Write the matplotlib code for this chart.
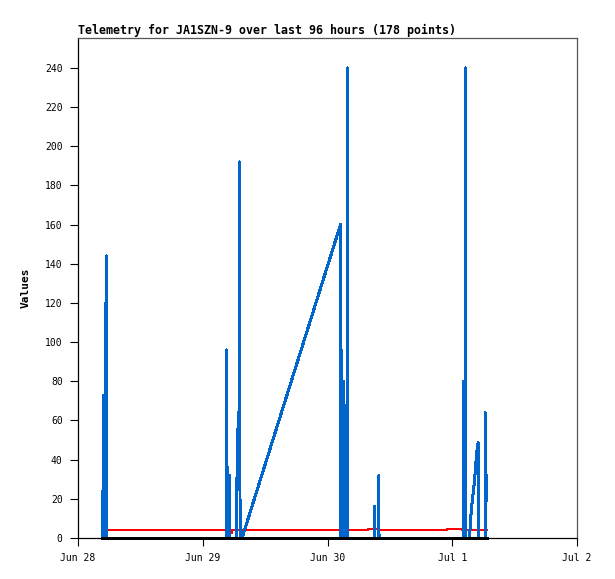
from datetime import datetime, timedelta
import matplotlib
matplotlib.use("Agg")
import matplotlib.pyplot as plt
import matplotlib.dates as mdates

start = datetime(2011, 6, 28)

# hours since Jun 28 00:00
blue_hours = [4.78, 4.80, 4.82, 4.97, 4.99, 5.01, 5.26, 5.28, 5.30, 5.45, 5.47, 5.49,
              28.49, 28.51, 28.53, 28.74, 28.76, 28.78, 29.07, 29.09, 29.11,
              30.41, 30.43, 30.60, 30.75, 30.90, 31.12, 31.14, 31.17,
              31.56, 50.50, 50.55, 50.62, 50.64, 50.80, 50.82, 50.84, 51.10, 51.12,
              51.74, 51.78, 51.80,
              57.00, 57.02, 57.04, 57.87, 57.89, 57.91,
              74.19, 74.21, 74.23, 74.56, 74.58, 74.60,
              75.34, 75.50, 75.70, 75.95, 76.20, 76.40,
              76.60, 76.80, 77.00, 77.03, 78.30, 78.34, 78.36, 78.59]
blue_vals = [0, 24, 0, 0, 73, 0, 0, 120, 0, 0, 144, 0,
             0, 96, 0, 0, 36, 0, 0, 32, 0,
             0, 11, 32, 54, 64, 64, 192, 0,
             0, 160, 0, 96, 0, 0, 72, 0, 80, 0,
             0, 240, 0,
             0, 16, 0, 0, 32, 0,
             0, 80, 0, 0, 240, 0,
             0, 9, 15, 21, 27, 33,
             40, 46, 48.7, 0, 0, 64, 0, 32]

red_hours = [4.6, 4.8, 29.4, 29.7, 53.2, 55.7, 58.0, 65.3, 71.0, 73.9, 78.6]
red_vals = [4.8, 3.9, 2.5, 3.9, 4.2, 4.7, 3.9, 4.2, 4.7, 3.9, 3.9]

black_hours = [4.6, 78.6]
black_vals = [0, 0]


def to_time(hours):
    return [start + timedelta(hours=h) for h in hours]


mono = "DejaVu Sans Mono"

fig = plt.figure(figsize=(6.15, 5.79), dpi=100)
ax = fig.add_axes([78 / 615, 1 - 538 / 579, 499 / 615, 500 / 579])

ax.plot(to_time(red_hours), red_vals, color="#ff0000", lw=1.44,
        drawstyle="steps-post", antialiased=False, zorder=2)
ax.plot(to_time(blue_hours), blue_vals, color="#0066cc", lw=1.44,
        antialiased=False, zorder=3)
ax.plot(to_time(black_hours), black_vals, color="black", lw=1.0,
        antialiased=False, zorder=4, clip_on=False)

ax.set_xlim(start, start + timedelta(days=4))
ax.set_ylim(0, 255.3)
ax.set_yticks(range(0, 241, 20))

ax.xaxis.set_major_locator(mdates.DayLocator())
ax.xaxis.set_major_formatter(plt.FuncFormatter(
    lambda x, pos: "{:%b} {}".format(mdates.num2date(x), mdates.num2date(x).day)))

ax.tick_params(direction="out", length=5.5, width=0.8, pad=5.5, labelsize=7)
for lab in ax.get_xticklabels() + ax.get_yticklabels():
    lab.set_fontfamily(mono)

for side in ["left", "bottom"]:
    ax.spines[side].set_color("black")
    ax.spines[side].set_linewidth(0.9)
for side in ["top", "right"]:
    ax.spines[side].set_color("#555555")
    ax.spines[side].set_linewidth(0.9)

ax.set_title("Telemetry for JA1SZN-9 over last 96 hours (178 points)", loc="left",
             fontfamily=mono, fontweight="bold", fontsize=8.4, pad=3)
ax.set_ylabel("Values", fontfamily=mono, fontweight="bold", fontsize=8)
ax.yaxis.set_label_coords(-0.094, 0.5)

fig.savefig("out.png", dpi=100)
